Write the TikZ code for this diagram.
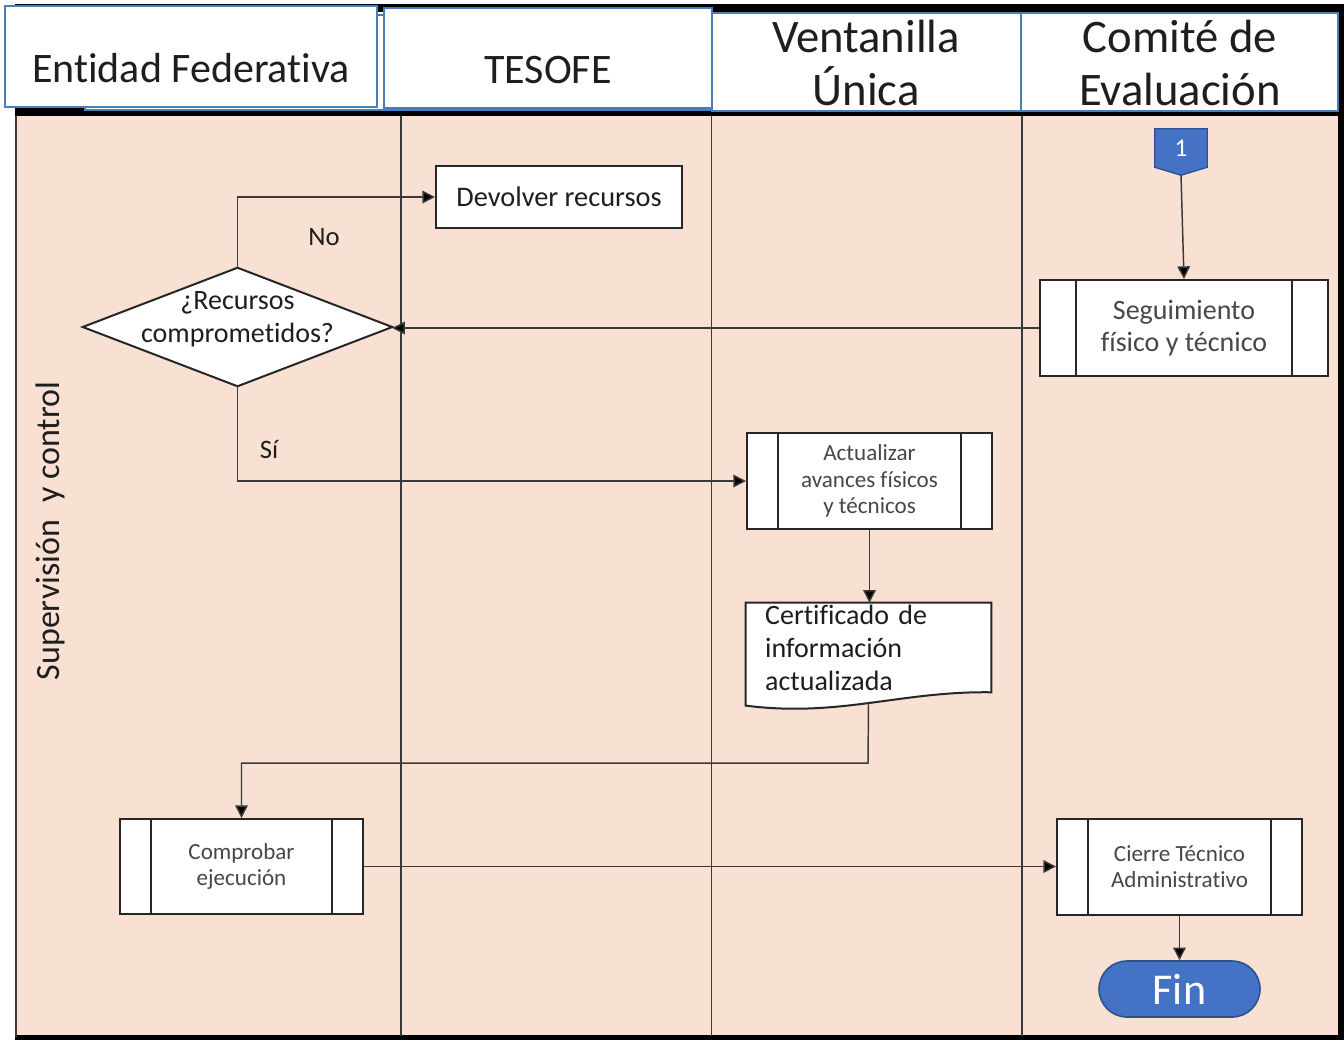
\documentclass[tikz,border=0pt]{standalone}
\usepackage{fontspec}
\setmainfont{Carlito}[Ligatures=NoCommon]
\usetikzlibrary{arrows.meta}
\definecolor{peach}{HTML}{F8E1D3}
\definecolor{hdrblue}{HTML}{4A7EBB}
\definecolor{accblue}{HTML}{4472C4}
\definecolor{accedge}{HTML}{2F528F}
\definecolor{ink}{HTML}{1E1E1E}
\definecolor{graytext}{HTML}{474747}
\definecolor{wire}{HTML}{3A3A3A}
\pgfdeclarelayer{bg}
\pgfdeclarelayer{shp}
\pgfsetlayers{bg,shp,main}
\tikzset{
  fnt/.style 2 args={font=\fontsize{#1}{#2}\selectfont},
  box/.style={draw=black!85, line width=1.5pt, fill=white, inner sep=0pt, align=center},
  sub/.style={box, path picture={
      \draw[line width=1.5pt, black!85]
        ([xshift=#1]path picture bounding box.north west) --
        ([xshift=#1]path picture bounding box.south west);
      \draw[line width=1.5pt, black!85]
        ([xshift=-#1]path picture bounding box.north east) --
        ([xshift=-#1]path picture bounding box.south east);}},
  hdr/.style={draw=hdrblue, line width=1.5pt, fill=white},
  outline/.style={draw=black!85, line width=1.5pt, fill=white},
  arr/.style={draw=wire, line width=1.1pt, -{Triangle[length=9.5pt,width=9.5pt,fill=black]}},
  lane/.style={draw=wire, line width=1.1pt},
}
\begin{document}
\begin{tikzpicture}[x=0.75pt,y=-0.75pt]
\useasboundingbox (0,0) rectangle (1344,1040);

% ---- pool, lanes and header row ----
\begin{pgfonlayer}{bg}
  \fill[white] (0,0) rectangle (1344,1040);
  \fill[peach] (15,116) rectangle (1340,1037);
  \fill[black] (15,4) rectangle (1344,12);
  \fill[black] (15,106) rectangle (1341,116);
  \fill[black] (1338,4) rectangle (1344,1040);
  \fill[black] (15,1035) rectangle (1344,1040);
  \draw[wire, line width=1.5pt] (15.5,116) -- (15.5,1037);
  \foreach \lx in {401,711.5,1022}
    \draw[lane] (\lx,116) -- (\lx,1036);
  \draw[hdrblue, line width=1.5pt, fill=white] (85,15) rectangle (712,110);
  \draw[hdr] (5,6) rectangle (377,107);
  \draw[hdr] (384,8) rectangle (712,108);
  \draw[hdr] (712,13) rectangle (1021,111);
  \draw[hdr] (1021,13) rectangle (1338,111);
\end{pgfonlayer}

\node[fnt={31.5pt}{38pt}, text=ink] (h1) at (191,68) {Entidad Federativa};
\node[fnt={31.5pt}{38pt}, text=ink] (h2) at (548,70) {TESOFE};
\node[fnt={35pt}{39.75pt}, text=ink, align=center] (h3) at (866,63) {Ventanilla\\Única};
\node[fnt={35pt}{39.75pt}, text=ink, align=center] (h4) at (1180,63) {Comité de\\Evaluación};

\node[fnt={25.5pt}{30pt}, text=ink, rotate=90] (lanelbl) at (50,531) {Supervisión\hspace{0.5em}y control};

% ---- process steps ----
\node[box, fnt={21.25pt}{24pt}, text=ink, minimum width=184.5pt, minimum height=46.5pt]
  (dev) at (559,197) {Devolver recursos};

\node[sub=27pt, fnt={21pt}{24pt}, text=graytext, minimum width=216pt, minimum height=72pt]
  (seg) at (1184,328) {Seguimiento\\físico y técnico};

\node[sub=23.25pt, fnt={17.3pt}{20pt}, text=graytext, minimum width=183.75pt, minimum height=72pt]
  (act) at (869.5,481) {\raisebox{-2.5pt}{}Actualizar\\avances físicos\\y técnicos};

\node[sub=23.25pt, fnt={17.3pt}{19.5pt}, text=graytext, minimum width=182.25pt, minimum height=71.25pt]
  (comp) at (241.5,866.5) {Comprobar\\ejecución};

\node[sub=23.25pt, fnt={17.3pt}{19.5pt}, text=graytext, minimum width=183.75pt, minimum height=72pt]
  (cierre) at (1179.5,867) {Cierre Técnico\\Administrativo};

% decision
\node[inner sep=0pt, minimum width=231.75pt, minimum height=88.5pt] (dec) at (237.5,327) {};
\begin{pgfonlayer}{shp}
  \draw[outline] (dec.north) -- (dec.east) -- (dec.south) -- (dec.west) -- cycle;
\end{pgfonlayer}
\node[align=center, inner sep=0pt, fnt={21pt}{24.75pt}, text=ink]
  (dectxt) at ([yshift=5.5pt]dec.center) {¿Recursos\\comprometidos?};

% document
\node[inner sep=0pt, inner xsep=14.25pt, minimum width=183.75pt, minimum height=66.75pt,
      text width=155pt, align=left, fnt={21pt}{24.75pt}, text=ink]
  (cert) at (868.5,647.5) {Certificado de\\información\\actualizada};
\begin{pgfonlayer}{shp}
  \draw[outline] (cert.north west) -- (cert.north east) -- (cert.south east)
    .. controls ([xshift=-68pt,yshift=1pt]cert.south east)
       and ([xshift=70pt,yshift=-19pt]cert.south west) ..
    ([yshift=-10pt]cert.south west) -- cycle;
\end{pgfonlayer}
\coordinate (certb) at ([yshift=-8pt]cert.south);

% off-page connector
\node[inner sep=0pt, minimum width=39pt, minimum height=28.5pt, fnt={19pt}{21pt}, text=white]
  (b1) at (1181,148) {1};
\begin{pgfonlayer}{shp}
  \draw[draw=accedge, fill=accblue, line width=1pt]
    (b1.north west) -- (b1.north east) -- (b1.south east) --
    ([yshift=-6pt]b1.south) -- (b1.south west) -- cycle;
\end{pgfonlayer}
\coordinate (b1tip) at ([yshift=-6pt]b1.south);

% terminator
\node[draw=accedge, fill=accblue, line width=1.2pt, rounded corners=21pt,
      minimum width=120.75pt, minimum height=42pt, inner sep=0pt,
      fnt={33pt}{36pt}, text=white] (fin) at (1179.5,989) {Fin};

% ---- connectors ----
\draw[arr] (b1tip) -- (seg.north);
\draw[arr] (seg.west) -- (seg.west -| dec.east);
\draw[arr] (dec.north) |- (dev.west);
\draw[arr] (dec.south) |- (act.west);
\draw[arr] (act.south) -- (act.south |- cert.north);
\coordinate (k1) at (868,763);
\draw[arr] (certb) -- (k1) -| (comp.north);
\draw[arr] (comp.east) -- (comp.east -| cierre.west);
\draw[arr] (cierre.south) -- (fin.north);

\node[fnt={20pt}{24pt}, text=ink] (lblno) at (324,237) {No};
\node[fnt={20pt}{24pt}, text=ink] (lblsi) at (269,449) {Sí};
\end{tikzpicture}
\end{document}
